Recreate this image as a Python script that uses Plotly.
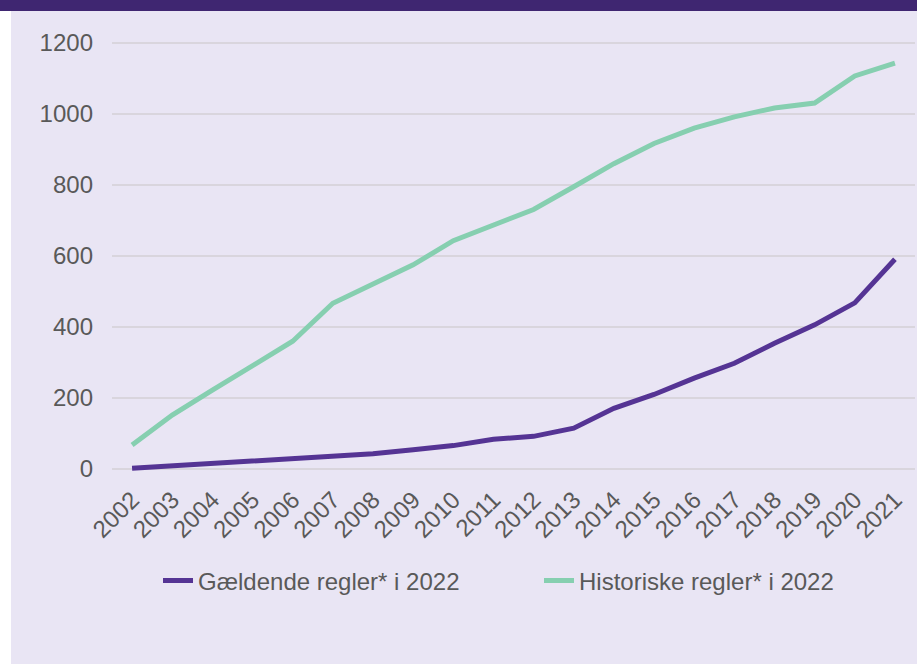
import plotly.graph_objects as go

years = [str(y) for y in range(2002, 2022)]
gaeldende = [2, 9, 14, 20, 28, 35, 43, 54, 66, 84, 92, 115, 171, 210, 256, 298, 354, 406, 468, 591]
historiske = [68, 152, 222, 291, 360, 467, 520, 575, 643, 687, 731, 795, 860, 917, 960, 992, 1017, 1031, 1107, 1143]
series_names = ["Gældende regler* i 2022", "Historiske regler* i 2022"]
y_ticks = [0, 200, 400, 600, 800, 1000, 1200]

W, H = 917, 664
L, R, T, B = 112, 2, 38, 190
pw, ph = W - L - R, H - T - B

def px(x):
    return (x - L) / pw

def py(y):
    return (H - B - y) / ph

purple = "#553494"
green = "#86CFB0"
txt = "#595959"
bg = "#E9E5F4"

fig = go.Figure()
fig.add_trace(go.Scatter(x=years, y=gaeldende, mode="lines", name=series_names[0],
                         line=dict(color=purple, width=5)))
fig.add_trace(go.Scatter(x=years, y=historiske, mode="lines", name=series_names[1],
                         line=dict(color=green, width=5)))

shapes = [
    dict(type="rect", xref="paper", yref="paper", x0=px(0), x1=px(W), y0=py(0), y1=py(11),
         fillcolor="#3F2671", line=dict(width=0), layer="below"),
    dict(type="rect", xref="paper", yref="paper", x0=px(0), x1=px(11), y0=py(11), y1=py(H),
         fillcolor="#FFFFFF", line=dict(width=0), layer="below"),
]

fig.update_layout(
    width=W, height=H,
    margin=dict(l=L, r=R, t=T, b=B),
    paper_bgcolor=bg, plot_bgcolor=bg,
    font=dict(family="Arial, Liberation Sans, sans-serif", size=24, color=txt),
    shapes=shapes,
    showlegend=True,
    legend=dict(orientation="h", xref="container", yref="container",
                x=158 / W, xanchor="left", y=1 - 581 / H, yanchor="middle",
                font=dict(size=24, color=txt), entrywidth=336, entrywidthmode="pixels",
                bgcolor="rgba(0,0,0,0)"),
    xaxis=dict(type="category", range=[-0.5, 19.5], tickangle=-45, showgrid=False,
               showline=False, ticks="", ticklabelstandoff=6,
               tickfont=dict(size=24, color=txt)),
    yaxis=dict(range=[-14, 1214], tickvals=y_ticks, showgrid=True, gridcolor="#D9D5DD",
               gridwidth=2, zeroline=False, showline=False, ticks="", ticklabelstandoff=18,
               tickfont=dict(size=24, color=txt)),
)

fig.write_html("out.html", config={"displayModeBar": False},
               post_script="document.body.style.margin='0';")
